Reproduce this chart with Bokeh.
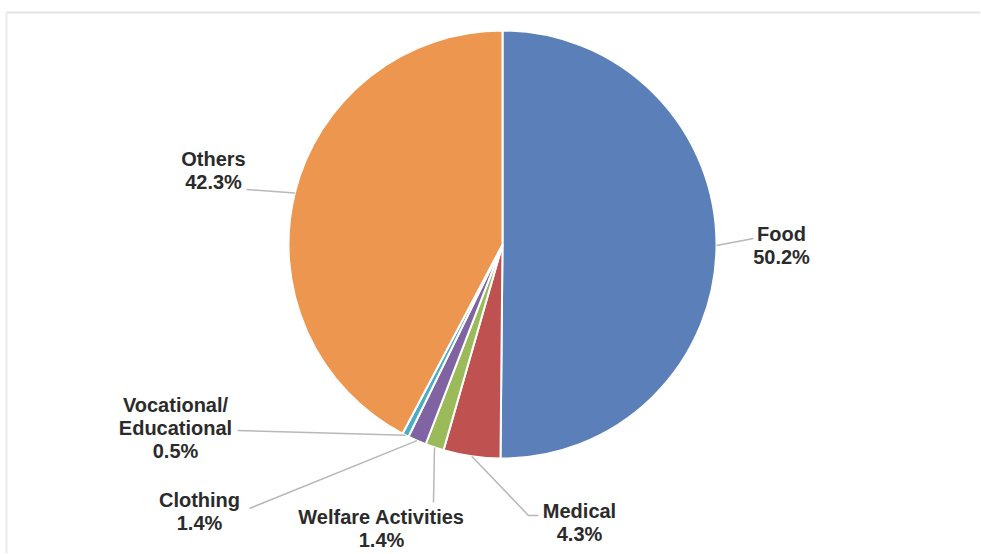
import math
from bokeh.plotting import figure
from bokeh.models import Range1d
from bokeh.core.properties import value
from bokeh.embed import file_html
from bokeh.resources import INLINE

# ---- data ----
categories = ["Food", "Medical", "Welfare Activities", "Clothing", "Vocational/\nEducational", "Others"]
shares = [50.2, 4.3, 1.4, 1.4, 0.5, 42.3]
colors = ["#5b80b9", "#bf5150", "#9bbb5a", "#7f63a2", "#4bacc6", "#ec9650"]

# ---- layout (figure pixel space, y up) ----
W, H = 980, 553
cx, cy, R = 502, H - 244, 214

def px(x):  # page x -> data x
    return x

def py(y):  # page y -> data y
    return H - y

# label centre (page coords) and leader path end points (page coords)
label_pos = {
    "Food": (781, 245),
    "Medical": (579, 522),
    "Welfare Activities": (381, 528),
    "Clothing": (199, 511),
    "Vocational/\nEducational": (175, 427),
    "Others": (213, 170),
}
leader_path = {
    "Food": [(753, 238)],
    "Medical": [(528, 515), (538, 515)],
    "Welfare Activities": [(433, 502)],
    "Clothing": [(249, 508)],
    "Vocational/\nEducational": [(237, 430)],
    "Others": [(246, 189)],
}

p = figure(width=W, height=H, output_backend="svg", toolbar_location=None,
           x_range=Range1d(0, W), y_range=Range1d(0, H), min_border=0)
p.axis.visible = False
p.grid.visible = False
p.outline_line_color = None
p.background_fill_color = "white"

# faint frame of the original screenshot
p.line([6, W], [py(12), py(12)], line_color="#e4e4e4", line_width=2)
p.line([6, 6], [py(12), 0], line_color="#ececec", line_width=2)

total = sum(shares)
start = math.pi / 2
starts, ends, mids = [], [], []
for s in shares:
    sweep = 2 * math.pi * s / total
    end = start - sweep
    starts.append(start)
    ends.append(end)
    mids.append((start + end) / 2)
    start = end

p.wedge(x=[cx] * len(shares), y=[cy] * len(shares), radius=R,
        start_angle=ends, end_angle=starts, direction="anticlock",
        fill_color=colors, line_color="white", line_width=2)

# leader lines
for cat, m in zip(categories, mids):
    ax = cx + R * math.cos(m)
    ay = cy + R * math.sin(m)
    xs = [ax] + [px(x) for x, _ in leader_path[cat]]
    ys = [ay] + [py(y) for _, y in leader_path[cat]]
    p.line(xs, ys, line_color="#b8b8b8", line_width=1.5)

# labels
for cat, s in zip(categories, shares):
    lx, ly = label_pos[cat]
    lines = cat.split("\n") + [f"{s:.1f}%"]
    n = len(lines)
    lh = 23
    for i, t in enumerate(lines):
        yy = ly - (n - 1) * lh / 2 + i * lh
        p.text(x=[px(lx)], y=[py(yy)], text=[t], text_align="center",
               text_baseline="middle", text_font=value("Liberation Sans"),
               text_font_style="bold", text_font_size="20px", text_color="#2b2b2b")

open("out.html", "w").write(file_html(p, INLINE))
